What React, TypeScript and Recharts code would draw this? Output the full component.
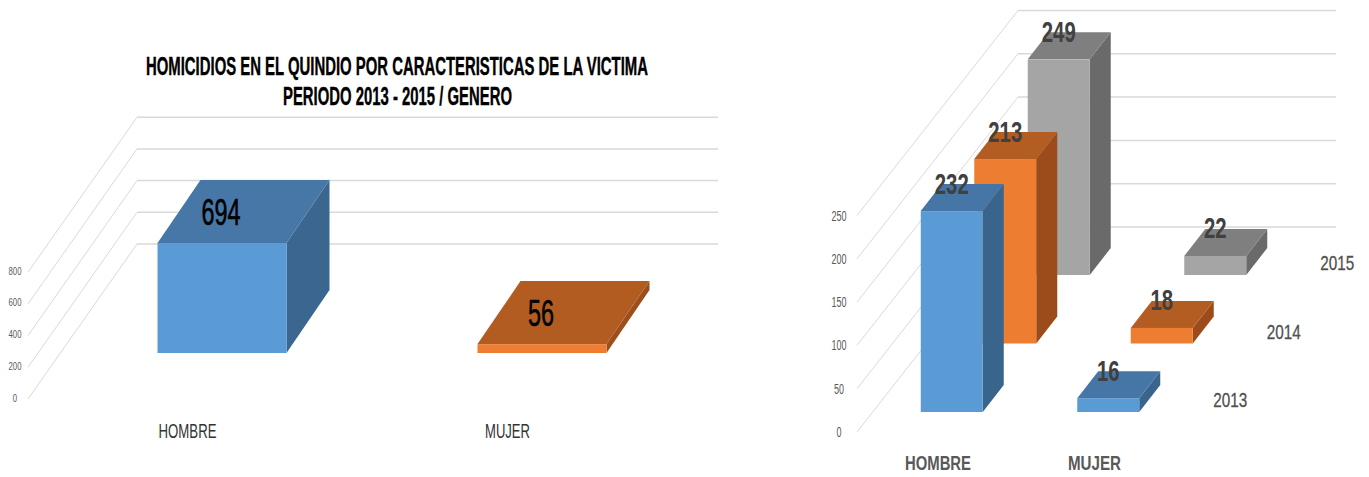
import React from 'react';
import { BarChart, Bar, XAxis, YAxis, CartesianGrid } from 'recharts';

// ---------- data ----------
const titleLines = [
  'HOMICIDIOS EN EL QUINDIO POR CARACTERISTICAS DE LA VICTIMA',
  'PERIODO 2013 - 2015 / GENERO',
];
const leftCategories = ['HOMBRE', 'MUJER'];
const leftValues = [694, 56];
const leftTicks = [0, 200, 400, 600, 800];

const rightCategories = ['HOMBRE', 'MUJER'];
const values2013 = [232, 16];
const values2014 = [213, 18];
const values2015 = [249, 22];
const seriesNames = ['2013', '2014', '2015'];
const seriesKeys = ['v2013', 'v2014', 'v2015'];
const rightTicks = [0, 50, 100, 150, 200, 250];

const leftData = leftCategories.map((c, i) => ({ cat: c, value: leftValues[i] }));
const rightData = rightCategories.map((c, i) => ({
  cat: c,
  v2013: values2013[i],
  v2014: values2014[i],
  v2015: values2015[i],
}));

// ---------- styles ----------
const FONT = "'Liberation Sans', Arial, sans-serif";
const GRID = '#D9D9D9';
const LEFT_FRONT = ['#5B9BD5', '#ED7D31'];
const LEFT_TOP = ['#4677A6', '#B35C22'];
const LEFT_SIDE = ['#3B6690', '#9E4E1B'];
const R_FRONT = ['#5B9BD5', '#ED7D31', '#A5A5A5'];
const R_TOP = ['#4676A5', '#B45D22', '#7F7F7F'];
const R_SIDE = ['#39648C', '#9B4C1A', '#6A6A6A'];

const RX = 720; // left offset of right chart

function Box({ x, y, w, h, dx, dy, front, top, side }: any) {
  const topPts = `${x},${y} ${x + dx},${y + dy} ${x + w + dx},${y + dy} ${x + w},${y}`;
  const sidePts = `${x + w},${y} ${x + w + dx},${y + dy} ${x + w + dx},${y + h + dy} ${x + w},${y + h}`;
  return (
    <g>
      <polygon points={sidePts} fill={side} />
      <polygon points={topPts} fill={top} />
      <rect x={x} y={y} width={w} height={h} fill={front} />
    </g>
  );
}

function LeftShape(props: any) {
  const { x, y, width, height, index, payload } = props;
  const v = payload.value;
  const digits = String(v).length;
  return (
    <g>
      <Box x={x} y={y} w={width} h={height} dx={43} dy={-63}
        front={LEFT_FRONT[index]} top={LEFT_TOP[index]} side={LEFT_SIDE[index]} />
      <text x={x + width / 2 - 1} y={y - 18} textAnchor="middle" fontSize={36}
        fontFamily={FONT} fill="#000" stroke="#000" strokeWidth={0.6}
        textLength={13 * digits} lengthAdjust="spacingAndGlyphs">
        {v}
      </text>
    </g>
  );
}

const makeRightShape = (si: number) => (props: any) => {
  const { width, height, index, payload } = props;
  const x = props.x + si * 53.5;
  const y = props.y - si * 68.5;
  const v = payload[seriesKeys[si]];
  const digits = String(v).length;
  const base = y + height;
  return (
    <g>
      <Box x={x} y={y} w={width} h={height} dx={21} dy={-27}
        front={R_FRONT[si]} top={R_TOP[si]} side={R_SIDE[si]} />
      <text x={x + width / 2} y={y - 17.5} textAnchor="middle" fontSize={29} fontWeight="bold"
        fontFamily={FONT} fill="#404040" textLength={11.3 * digits} lengthAdjust="spacingAndGlyphs">
        {v}
      </text>
      {index === 1 && (
        <text x={x + width + 91} y={base - 5} textAnchor="middle" fontSize={21}
          fontFamily={FONT} fill="#505050" stroke="#505050" strokeWidth={0.3}
          textLength={34} lengthAdjust="spacingAndGlyphs">
          {seriesNames[si]}
        </text>
      )}
    </g>
  );
};

const LeftYTick = (props: any) => {
  const { y, payload } = props;
  const s = String(payload.value);
  return (
    <text x={15} y={y + 48.5} textAnchor="middle" fontSize={11} fontFamily={FONT} fill="#595959"
      textLength={4.3 * s.length} lengthAdjust="spacingAndGlyphs">{s}</text>
  );
};

const LeftXTick = (props: any) => {
  const { x, y, payload } = props;
  const s = String(payload.value);
  return (
    <text x={x - 34} y={y + 85} textAnchor="middle" fontSize={21} fontFamily={FONT} fill="#333333"
      textLength={s === 'HOMBRE' ? 58 : 45} lengthAdjust="spacingAndGlyphs">{s}</text>
  );
};

const RightYTick = (props: any) => {
  const { y, payload } = props;
  const s = String(payload.value);
  return (
    <text x={839 - RX} y={y + 25} textAnchor="middle" fontSize={14} fontFamily={FONT} fill="#595959"
      textLength={5 * s.length} lengthAdjust="spacingAndGlyphs">{s}</text>
  );
};

const RightXTick = (props: any) => {
  const { x, y, payload } = props;
  const s = String(payload.value);
  return (
    <text x={x - 14} y={y + 58} textAnchor="middle" fontSize={21} fontWeight="bold" fontFamily={FONT}
      fill="#595959" textLength={s === 'HOMBRE' ? 66 : 53} lengthAdjust="spacingAndGlyphs">{s}</text>
  );
};

const leftGridLine = (p: any) => {
  const y = p.y1;
  return (
    <g key={`lg-${p.index}-${y}`}>
      <line x1={28} y1={y + 46} x2={137} y2={y - 109} stroke={GRID} strokeWidth={1} />
      <line x1={137} y1={y - 109} x2={718} y2={y - 109} stroke={GRID} strokeWidth={1.5} />
    </g>
  );
};

const rightGridLine = (p: any) => {
  const y = p.y1;
  return (
    <g key={`rg-${p.index}-${y}`}>
      <line x1={857 - RX} y1={y + 20} x2={1018 - RX} y2={y - 185} stroke={GRID} strokeWidth={1} />
      <line x1={1018 - RX} y1={y - 185} x2={1336 - RX} y2={y - 185} stroke={GRID} strokeWidth={1.5} />
    </g>
  );
};

export default function App() {
  return (
    <div style={{ position: 'fixed', left: 0, top: 0, width: 1369, height: 477, background: '#fff' }}>
      <div style={{ position: 'absolute', left: 0, top: 0 }}>
        <BarChart width={720} height={477} data={leftData}
          margin={{ top: 226.2, right: 18.5, bottom: 123, left: 60.5 }}>
          <CartesianGrid vertical={false} horizontal={leftGridLine} />
          <XAxis dataKey="cat" height={1} axisLine={false} tickLine={false} tickSize={0} tickMargin={0}
            tick={<LeftXTick />} interval={0} />
          <YAxis width={1} domain={[0, 800]} ticks={leftTicks} interval={0} axisLine={false}
            tickLine={false} tick={<LeftYTick />} />
          <Bar dataKey="value" barSize={129} isAnimationActive={false} shape={<LeftShape />} />
        </BarChart>
      </div>
      <svg width={1369} height={120} style={{ position: 'absolute', left: 0, top: 0, pointerEvents: 'none' }}>
        <text x={397} y={75} textAnchor="middle" fontSize={25} fontWeight="bold" fontFamily={FONT}
          fill="#000" stroke="#000" strokeWidth={0.4}
          textLength={502} lengthAdjust="spacingAndGlyphs">{titleLines[0]}</text>
        <text x={397.5} y={105} textAnchor="middle" fontSize={25} fontWeight="bold" fontFamily={FONT}
          fill="#000" stroke="#000" strokeWidth={0.4}
          textLength={229} lengthAdjust="spacingAndGlyphs">{titleLines[1]}</text>
      </svg>
      <div style={{ position: 'absolute', left: RX, top: 0 }}>
        <BarChart width={649} height={477} data={rightData}
          margin={{ top: 195.5, right: 182.25, bottom: 64, left: 152.75 }}>
          <CartesianGrid xAxisId="a" vertical={false} horizontal={rightGridLine} />
          <XAxis xAxisId="a" dataKey="cat" height={1} axisLine={false} tickLine={false} tickSize={0}
            tickMargin={0} tick={<RightXTick />} interval={0} />
          <XAxis xAxisId="b" dataKey="cat" hide />
          <XAxis xAxisId="c" dataKey="cat" hide />
          <YAxis width={1} domain={[0, 250]} ticks={rightTicks} interval={0} axisLine={false}
            tickLine={false} tick={<RightYTick />} />
          <Bar xAxisId="c" dataKey="v2015" barSize={62} isAnimationActive={false} shape={makeRightShape(2)} />
          <Bar xAxisId="b" dataKey="v2014" barSize={62} isAnimationActive={false} shape={makeRightShape(1)} />
          <Bar xAxisId="a" dataKey="v2013" barSize={62} isAnimationActive={false} shape={makeRightShape(0)} />
        </BarChart>
      </div>
    </div>
  );
}
